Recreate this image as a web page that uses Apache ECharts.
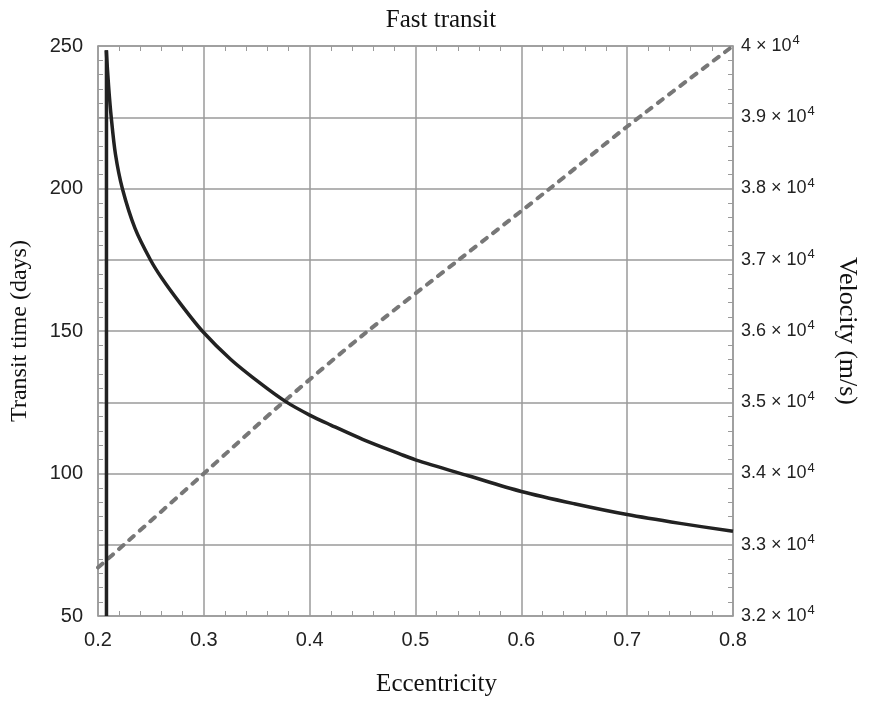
<!DOCTYPE html>
<html>
<head>
<meta charset="utf-8">
<script src="https://cdn.jsdelivr.net/npm/echarts@6/dist/echarts.min.js"></script>
<style>
html,body{margin:0;padding:0;background:#fff;}
#chart{width:873px;height:702px;}
</style>
</head>
<body>
<div id="chart"></div>
<script>
// Vertical drop of the transit-time curve at its asymptote
const dropEcc  = [0.208, 0.208];
const dropDays = [50, 248.5];
// Eccentricity values and transit time (days)
const transitEcc  = [0.2078, 0.2100, 0.2125, 0.2165, 0.223, 0.235, 0.2495, 0.2607, 0.278, 0.2985, 0.3255, 0.3538, 0.377, 0.4, 0.42, 0.45, 0.4856, 0.5, 0.55, 0.6, 0.65, 0.7, 0.75, 0.8];
const transitDays = [248.5, 236, 225, 212, 200, 186, 175, 168.3, 159.5, 150, 140, 131.5, 125.3, 120.5, 117, 112, 106.8, 104.8, 99.2, 93.7, 89.4, 85.6, 82.5, 79.7];
// Eccentricity values and velocity (m/s)
const velEcc = [0.2, 0.2245, 0.3, 0.375, 0.455, 0.541, 0.627, 0.7, 0.8];
const velMs  = [32680, 33000, 34000, 35000, 36000, 37000, 38000, 38870, 40000];

const dropData = dropEcc.map((x, i) => [x, dropDays[i]]);
const transitData = transitEcc.map((x, i) => [x, transitDays[i]]);
const velData = velEcc.map((x, i) => [x, velMs[i]]);

const axisGray = '#9a9a9a';
const sans = 'Liberation Sans, Arial, Helvetica, sans-serif';
const serif = 'Liberation Serif, Times New Roman, serif';

const chart = echarts.init(document.getElementById('chart'));
chart.setOption({
  animation: false,
  backgroundColor: '#fff',
  title: {
    text: 'Fast transit',
    left: 436, textAlign: 'center',
    top: 3,
    textStyle: { fontFamily: serif, fontSize: 25, fontWeight: 'normal', color: '#111' }
  },
  grid: { left: 97, right: 140, top: 46, bottom: 84 },
  xAxis: [{
    type: 'value', min: 0.2, max: 0.8, interval: 0.1,
    name: 'Eccentricity', nameLocation: 'middle', nameGap: 56,
    nameTextStyle: { fontFamily: serif, fontSize: 25, color: '#111', padding: [0, 0, 0, 42] },
    axisLine: { show: true, lineStyle: { color: axisGray, width: 1.5 } },
    axisTick: { show: false, inside: true },
    minorTick: { show: true, splitNumber: 5, length: 5, lineStyle: { color: axisGray, width: 1 } },
    axisLabel: { margin: 14, fontFamily: sans, fontSize: 20, color: '#222', formatter: v => v.toFixed(1) },
    splitLine: { show: true, lineStyle: { color: axisGray, width: 1.5 } },
    minorSplitLine: { show: false }
  }, {
    type: 'value', position: 'top', min: 0.2, max: 0.8, interval: 0.1,
    axisLine: { show: true, lineStyle: { color: axisGray, width: 1.5 } },
    axisTick: { show: false, inside: true },
    minorTick: { show: true, splitNumber: 5, length: 5, lineStyle: { color: axisGray, width: 1 } },
    axisLabel: { show: false },
    splitLine: { show: false }
  }],
  yAxis: [{
    type: 'value', min: 50, max: 250, interval: 50, position: 'left',
    name: 'Transit time (days)', nameLocation: 'middle', nameGap: 66, nameRotate: 90,
    nameTextStyle: { fontFamily: serif, fontSize: 24, color: '#111' },
    axisLine: { show: true, lineStyle: { color: axisGray, width: 1.5 } },
    axisTick: { show: false, inside: true },
    minorTick: { show: true, splitNumber: 10, length: 5, lineStyle: { color: axisGray, width: 1 } },
    axisLabel: { margin: 15, fontFamily: sans, fontSize: 20, color: '#222' },
    splitLine: { show: false }
  }, {
    type: 'value', min: 32000, max: 40000, interval: 1000, position: 'right',
    name: 'Velocity (m/s)', nameLocation: 'middle', nameGap: 101, nameRotate: -90,
    nameTextStyle: { fontFamily: serif, fontSize: 26, color: '#111' },
    axisLine: { show: true, lineStyle: { color: axisGray, width: 1.5 } },
    axisTick: { show: false, inside: true },
    minorTick: { show: true, splitNumber: 5, length: 5, lineStyle: { color: axisGray, width: 1 } },
    axisLabel: {
      margin: 8, color: '#222',
      formatter: v => '{a|' + (v / 10000) + ' \u00d7 10}{s|4}',
      rich: {
        a: { fontFamily: sans, fontSize: 18, color: '#222', lineHeight: 24 },
        s: { fontFamily: sans, fontSize: 13, color: '#222', verticalAlign: 'top', lineHeight: 24, padding: [0, 0, 10, 1] }
      }
    },
    splitLine: { show: true, lineStyle: { color: axisGray, width: 1.5 } }
  }],
  series: [{
    type: 'line', xAxisIndex: 0, yAxisIndex: 0,
    data: dropData, showSymbol: false, symbol: 'none',
    lineStyle: { color: '#222', width: 3.5 },
    z: 3
  }, {
    type: 'line', xAxisIndex: 0, yAxisIndex: 0,
    data: transitData, showSymbol: false, symbol: 'none', smooth: 0.3,
    lineStyle: { color: '#222', width: 3.5, join: 'round' },
    z: 3
  }, {
    type: 'line', xAxisIndex: 0, yAxisIndex: 1,
    data: velData, showSymbol: false, symbol: 'none', smooth: 0.3,
    lineStyle: { color: '#777', width: 4, type: [6, 8], cap: 'round' },
    z: 2
  }]
});
</script>
</body>
</html>
